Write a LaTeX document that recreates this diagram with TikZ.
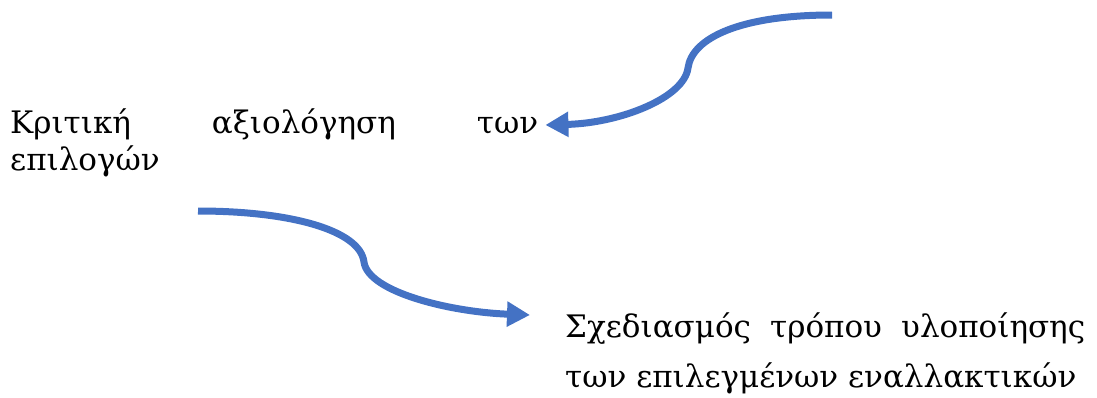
\documentclass[tikz,border=0pt]{standalone}
\usepackage{fontspec}
\setmainfont{DejaVu Serif}
\usetikzlibrary{arrows.meta,positioning}
\definecolor{arrowblue}{HTML}{4472C4}

\begin{document}
\begin{tikzpicture}[x=1pt,y=-1pt,
    wordarrow/.style={draw=arrowblue,line width=7pt,-{Triangle[length=23pt,width=24pt]}},
    txt/.style={inner sep=0pt,align=justify,anchor=base west}]
  \useasboundingbox (0,0) rectangle (1097,397);

  \node[txt,text width=528pt,font=\fontsize{31}{37}\selectfont] (eval) at (10,133)
    {Κριτική αξιολόγηση των\linebreak επιλογών};
  \node[txt,text width=520pt,font=\fontsize{31}{50}\selectfont] (plan) at (565,337)
    {Σχεδιασμός τρόπου υλοποίησης\linebreak των επιλεγμένων εναλλακτικών};

  \coordinate (top) at (832,15);
  \coordinate (low) at (198,211);

  \draw[wordarrow] (top) .. controls (740,15) and (692,38) .. (688,68)
    .. controls (684,98) and (620,123) .. ([xshift=7pt,yshift=8pt]eval.base east);
  \draw[wordarrow] (low) .. controls (290,211) and (360,230) .. (364,262)
    .. controls (368,292) and (450,312) .. ([xshift=-35pt,yshift=22pt]plan.base west);
\end{tikzpicture}
\end{document}
